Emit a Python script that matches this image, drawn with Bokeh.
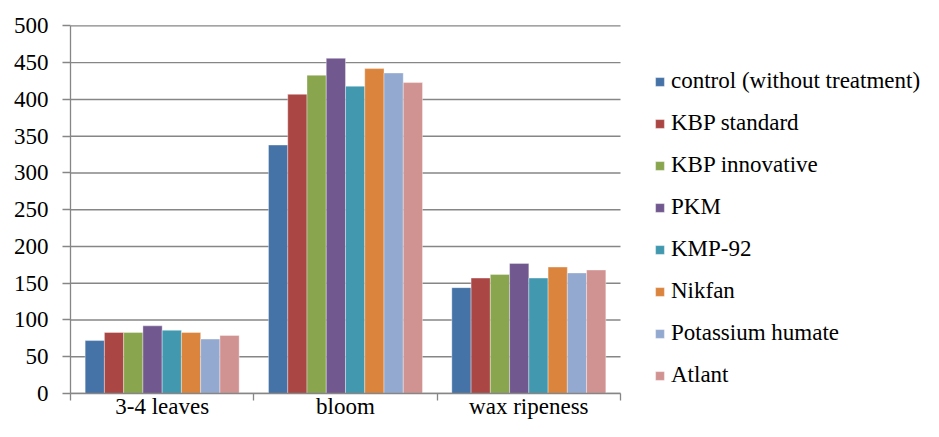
from bokeh.plotting import figure
from bokeh.models import FixedTicker, Legend, LegendItem, ColumnDataSource, Range1d
from bokeh.embed import file_html
from bokeh.resources import INLINE

# ---- data ----
stages = ["3-4 leaves", "bloom", "wax ripeness"]
treatments = ["control (without treatment)", "KBP standard", "KBP innovative", "PKM",
              "KMP-92", "Nikfan", "Potassium humate", "Atlant"]
control = [72, 338, 144]
kbp_standard = [83, 407, 157]
kbp_innovative = [83, 433, 162]
pkm = [92, 456, 177]
kmp_92 = [86, 418, 157]
nikfan = [83, 442, 172]
potassium_humate = [74, 436, 164]
atlant = [79, 423, 168]
y_ticks = [0, 50, 100, 150, 200, 250, 300, 350, 400, 450, 500]

series = [control, kbp_standard, kbp_innovative, pkm, kmp_92, nikfan, potassium_humate, atlant]
colors = ["#4572A7", "#AA4643", "#89A54E", "#71588F", "#4198AF", "#DB843D", "#93A9CF", "#D19392"]

FONT = "Liberation Serif, Times New Roman, serif"
FS = "23px"
GRID = "#868686"

W, H = 923, 421
LEFT, TOP = 70, 24
PLOT_PX = 550                      # pixel width of the bar area
FRAME_PX = W - LEFT                # frame also holds the legend area
x_end = len(stages) * FRAME_PX / PLOT_PX

p = figure(width=W, height=H, output_backend="svg", toolbar_location=None,
           x_range=Range1d(0, x_end), y_range=Range1d(0, 502),
           min_border_left=LEFT, min_border_right=0, min_border_top=TOP, min_border_bottom=0)
p.outline_line_color = None
p.background_fill_color = "white"
p.border_fill_color = "white"

# horizontal gridlines limited to the bar area
p.ygrid.visible = False
p.xgrid.visible = False
p.segment(x0=[0] * len(y_ticks), x1=[len(stages)] * len(y_ticks), y0=y_ticks, y1=y_ticks,
          line_color=GRID, line_width=1.3)

n = len(series)
group = 0.84
bw = group / n
renderers = []
for i, (vals, col) in enumerate(zip(series, colors)):
    off = -group / 2 + bw * (i + 0.5)
    src = ColumnDataSource(dict(x=[j + 0.5 + off for j in range(len(stages))], top=vals))
    r = p.vbar(x="x", top="top", width=bw, bottom=0, source=src, fill_color=col,
               line_color="white", line_alpha=0.45, line_width=0.8)
    renderers.append(r)

# x axis: labels at centers, ticks at boundaries
centers = [j + 0.5 for j in range(len(stages))]
bounds = [j for j in range(len(stages) + 1)]
p.xaxis.ticker = FixedTicker(ticks=centers, minor_ticks=bounds)
p.xaxis.bounds = (0, len(stages))
p.xaxis.major_label_overrides = {c: s for c, s in zip(centers, stages)}
p.xaxis.major_tick_out = 0
p.xaxis.major_tick_in = 0
p.xaxis.minor_tick_out = 7
p.xaxis.minor_tick_in = 0
p.xaxis.minor_tick_line_color = GRID
p.xaxis.minor_tick_line_width = 1.3
p.xaxis.axis_line_color = GRID
p.xaxis.axis_line_width = 1.3
p.xaxis.major_label_standoff = -7
p.xaxis.major_label_text_font = FONT
p.xaxis.major_label_text_font_size = FS
p.xaxis.major_label_text_color = "black"

p.yaxis.ticker = FixedTicker(ticks=y_ticks, minor_ticks=[])
p.yaxis.bounds = (0, 500)
p.yaxis.major_tick_out = 8
p.yaxis.major_tick_in = 0
p.yaxis.major_tick_line_color = GRID
p.yaxis.major_tick_line_width = 1.3
p.yaxis.axis_line_color = GRID
p.yaxis.axis_line_width = 1.3
p.yaxis.major_label_standoff = 14
p.yaxis.major_label_text_font = FONT
p.yaxis.major_label_text_font_size = FS
p.yaxis.major_label_text_color = "black"

legend = Legend(items=[LegendItem(label=t, renderers=[r]) for t, r in zip(treatments, renderers)],
                location=(584, 3), padding=0, margin=0, border_line_color=None,
                background_fill_alpha=0, glyph_width=11, glyph_height=11,
                label_height=30, spacing=12, label_standoff=6,
                label_text_font=FONT, label_text_font_size=FS, label_text_color="black")
p.add_layout(legend)

open("out.html", "w").write(file_html(p, INLINE))
